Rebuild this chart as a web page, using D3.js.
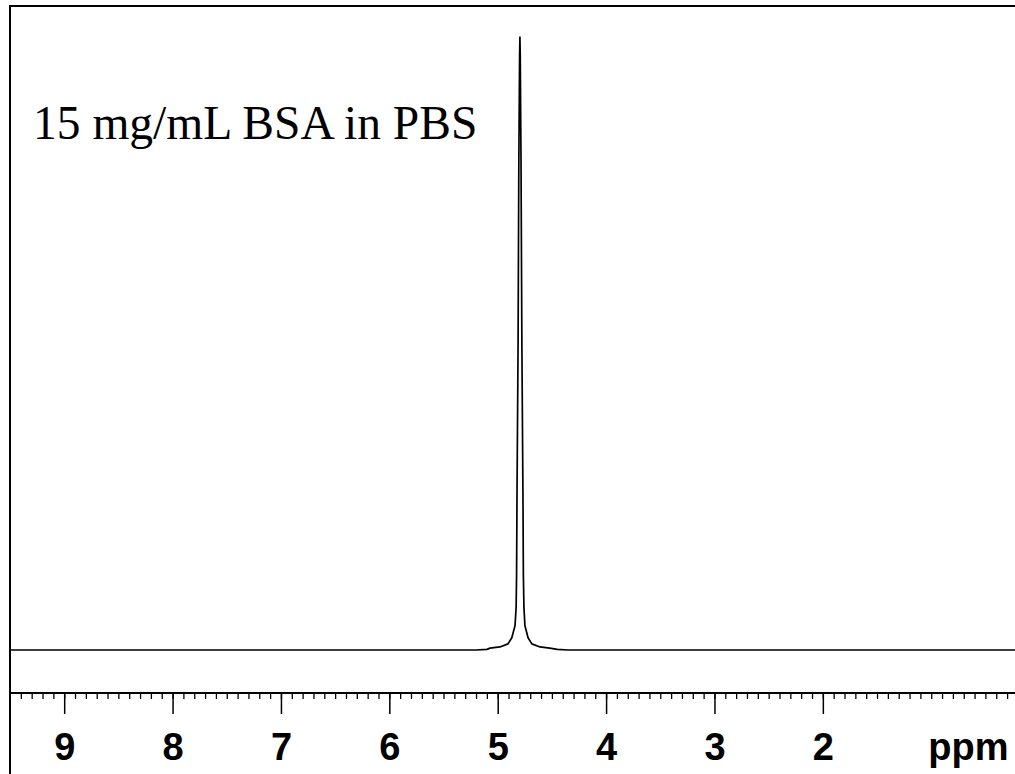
<!DOCTYPE html>
<html>
<head>
<meta charset="utf-8">
<script src="https://cdn.jsdelivr.net/npm/d3@7"></script>
<style>
  html, body { margin: 0; padding: 0; background: #fff; }
  svg { display: block; }
</style>
</head>
<body>
<script>
// spectrum: chemical shift (ppm) and relative intensity
var shiftPpm  = [9.50, 5.20, 5.10, 5.07, 4.98, 4.905, 4.87, 4.84, 4.83, 4.826, 4.822, 4.812, 4.805, 4.798, 4.795,
                 4.792, 4.785, 4.777, 4.767, 4.763, 4.758, 4.749, 4.72, 4.685, 4.61, 4.52, 4.45, 4.35, 0.20];
var intensity = [0, 0, 0.1, 0.3, 0.5, 1.0, 2.0, 4, 7, 12, 25, 50, 80, 97, 100,
                 97, 80, 50, 25, 12, 7, 4, 2.0, 1.0, 0.5, 0.3, 0.1, 0, 0];

var majorTicks = [9, 8, 7, 6, 5, 4, 3, 2];
var unitLabel = "ppm";
var sampleLabel = "15 mg/mL BSA in PBS";

var width = 1015, height = 774;

var svg = d3.select("body").append("svg")
    .attr("width", width)
    .attr("height", height);

// ppm axis runs right to left
var x = d3.scaleLinear().domain([9.5, 0.227]).range([10, 1015]);
var y = d3.scaleLinear().domain([0, 100]).range([650, 37]);

var axisY = 693;

// frame: top and left edge
svg.append("path")
    .attr("d", `M10 774 L10 6 L${width} 6`)
    .attr("fill", "none")
    .attr("stroke", "black")
    .attr("stroke-width", 2);

// the spectrum
var line = d3.line()
    .x(function(d, i) { return x(d); })
    .y(function(d, i) { return y(intensity[i]); });

svg.append("path")
    .datum(shiftPpm)
    .attr("d", line)
    .attr("fill", "none")
    .attr("stroke", "black")
    .attr("stroke-width", 1.7)
    .attr("stroke-linejoin", "round");

// minor ticks every 0.1 ppm
var minorTicks = d3.range(3, 95).map(function(v) { return v / 10; });

var gMinor = svg.append("g")
    .attr("transform", `translate(0, ${axisY})`)
    .call(d3.axisBottom(x).tickValues(minorTicks).tickSize(6).tickFormat(""));
gMinor.select(".domain").remove();
gMinor.selectAll("line").attr("stroke-width", 1.3);

var gMajor = svg.append("g")
    .attr("transform", `translate(0, ${axisY})`)
    .call(d3.axisBottom(x).tickValues(majorTicks).tickSize(21).tickFormat(d3.format("d")));
gMajor.select(".domain").remove();
gMajor.selectAll("line").attr("stroke-width", 1.5);
gMajor.selectAll("text")
    .attr("y", 0)
    .attr("dy", 0)
    .attr("transform", "translate(0, 67)")
    .style("font-family", "'Liberation Sans', Arial, sans-serif")
    .style("font-weight", "bold")
    .style("font-size", "38px")
    .attr("fill", "black");

// axis line
svg.append("path")
    .attr("d", `M10 ${axisY} L${width} ${axisY}`)
    .attr("stroke", "black")
    .attr("stroke-width", 2);

svg.append("text")
    .attr("x", x(1) - 3)
    .attr("y", 760)
    .style("font-family", "'Liberation Sans', Arial, sans-serif")
    .style("font-weight", "bold")
    .style("font-size", "38px")
    .text(unitLabel);

svg.append("text")
    .attr("x", 33)
    .attr("y", 139)
    .style("font-family", "'Liberation Serif', 'Times New Roman', serif")
    .style("font-size", "47.5px")
    .text(sampleLabel);
</script>
</body>
</html>
